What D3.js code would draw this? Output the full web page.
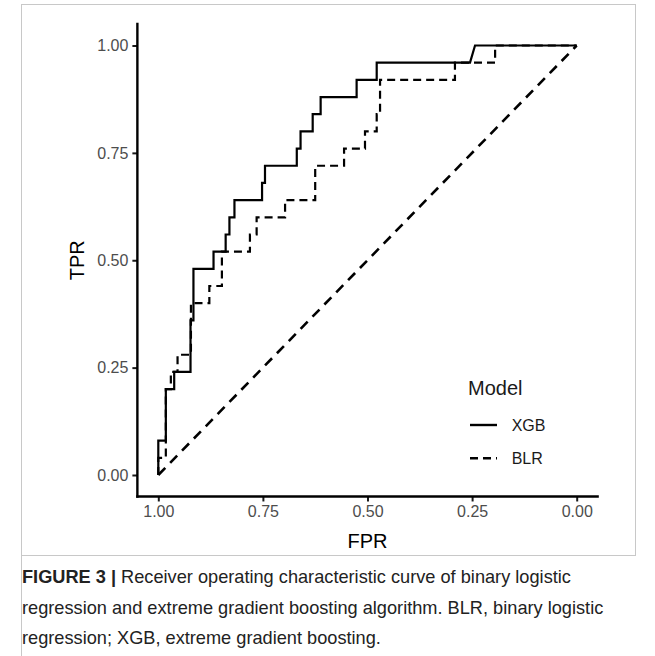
<!DOCTYPE html>
<html>
<head>
<meta charset="utf-8">
<script src="https://cdn.jsdelivr.net/npm/d3@7"></script>
<style>
  body { margin: 0; background: #fff; }
  svg { display: block; font-family: "Liberation Sans", Arial, sans-serif; }
</style>
</head>
<body>
<script>
// ROC points (x axis is reversed, 1.00 on the left)
const xgbFpr = [1.00, 1.00, 0.982, 0.982, 0.962, 0.962, 0.923, 0.923, 0.916, 0.916,
    0.868, 0.868, 0.839, 0.839, 0.830, 0.830, 0.818, 0.818, 0.752, 0.752,
    0.745, 0.745, 0.669, 0.669, 0.660, 0.660, 0.631, 0.631, 0.612, 0.612,
    0.526, 0.526, 0.478, 0.478, 0.255, 0.243, 0.00]
const xgbTpr = [0, 0.08, 0.08, 0.20, 0.20, 0.24, 0.24, 0.36, 0.36, 0.48,
    0.48, 0.52, 0.52, 0.56, 0.56, 0.60, 0.60, 0.64, 0.64, 0.68,
    0.68, 0.72, 0.72, 0.76, 0.76, 0.80, 0.80, 0.84, 0.84, 0.88,
    0.88, 0.92, 0.92, 0.96, 0.96, 1.00, 1.00]

const blrFpr = [1.00, 1.00, 0.982, 0.982, 0.970, 0.970, 0.954, 0.954, 0.922, 0.922,
    0.878, 0.878, 0.848, 0.848, 0.781, 0.781, 0.765, 0.765, 0.697, 0.697,
    0.625, 0.625, 0.556, 0.556, 0.506, 0.506, 0.478, 0.478, 0.470, 0.470,
    0.291, 0.291, 0.195, 0.195, 0.00]
const blrTpr = [0, 0.04, 0.04, 0.20, 0.20, 0.24, 0.24, 0.28, 0.28, 0.40,
    0.40, 0.44, 0.44, 0.52, 0.52, 0.56, 0.56, 0.60, 0.60, 0.64,
    0.64, 0.72, 0.72, 0.76, 0.76, 0.80, 0.80, 0.84, 0.84, 0.92,
    0.92, 0.96, 0.96, 1.00, 1.00]

// reference diagonal
const chanceFpr = [1, 0]
const chanceTpr = [0, 1]

const xTicks = [1.00, 0.75, 0.50, 0.25, 0.00]
const yTicks = [0.00, 0.25, 0.50, 0.75, 1.00]

const models = ['XGB', 'BLR']

const captionLines = [
    ['FIGURE 3 | ', 'Receiver operating characteristic curve of binary logistic'],
    ['', 'regression and extreme gradient boosting algorithm. BLR, binary logistic'],
    ['', 'regression; XGB, extreme gradient boosting.']
]

const m = {
    width: 655,
    height: 656
}

const svg = d3.select('body').append('svg')
    .attr('width', m.width)
    .attr('height', m.height)

// figure frame
svg.append('rect')
    .attr('x', 21.5).attr('y', 4.5)
    .attr('width', 614).attr('height', 551)
    .attr('fill', 'none')
    .attr('stroke', '#c8c8c8')
    .attr('stroke-width', 1)
svg.append('line')
    .attr('x1', 21.5).attr('x2', 21.5)
    .attr('y1', 555).attr('y2', 656)
    .attr('stroke', '#c8c8c8')

const x = d3.scaleLinear().domain([1, 0]).range([158.3, 576.7])
const y = d3.scaleLinear().domain([0, 1]).range([475, 45.5])

const g = svg.append('g')

// axes
const xAxis = g.append('g')
    .attr('transform', 'translate(0,' + y(-0.05) + ')')
    .call(d3.axisBottom(x).tickValues(xTicks).tickFormat(d3.format('.2f')).tickSize(5).tickPadding(4))
const yAxis = g.append('g')
    .attr('transform', 'translate(' + x(1.05) + ',0)')
    .call(d3.axisLeft(y).tickValues(yTicks).tickFormat(d3.format('.2f')).tickSize(5).tickPadding(4))

g.selectAll('.domain').remove()
g.selectAll('.tick line').attr('stroke', '#1a1a1a').attr('stroke-width', 2)
g.selectAll('.tick text')
    .attr('fill', '#4d4d4d')
    .style('font-size', '16px')
    .style('font-family', '"Liberation Sans", Arial, sans-serif')

g.append('line')
    .attr('x1', x(1.05)).attr('x2', x(-0.05))
    .attr('y1', y(-0.05)).attr('y2', y(-0.05))
    .attr('stroke', 'black').attr('stroke-width', 2.4).attr('stroke-linecap', 'square')
g.append('line')
    .attr('x1', x(1.05)).attr('x2', x(1.05))
    .attr('y1', y(-0.05)).attr('y2', y(1.05))
    .attr('stroke', 'black').attr('stroke-width', 2.4).attr('stroke-linecap', 'square')

// axis titles
g.append('text')
    .attr('x', (x(1) + x(0)) / 2)
    .attr('y', 548)
    .attr('text-anchor', 'middle')
    .style('font-size', '20px')
    .text('FPR')
g.append('text')
    .attr('transform', 'translate(84,' + ((y(0) + y(1)) / 2) + ') rotate(-90)')
    .attr('text-anchor', 'middle')
    .style('font-size', '20px')
    .text('TPR')

const line = d3.line()
    .x(function (d) { return x(d[0]) })
    .y(function (d) { return y(d[1]) })

g.append('path')
    .datum(d3.zip(chanceFpr, chanceTpr))
    .attr('d', line)
    .attr('fill', 'none')
    .attr('stroke', 'black')
    .attr('stroke-width', 2.6)
    .attr('stroke-dasharray', '10,7')

g.append('path')
    .datum(d3.zip(blrFpr, blrTpr))
    .attr('d', line)
    .attr('fill', 'none')
    .attr('stroke', 'black')
    .attr('stroke-width', 2.2)
    .attr('stroke-dasharray', '8,5')

g.append('path')
    .datum(d3.zip(xgbFpr, xgbTpr))
    .attr('d', line)
    .attr('fill', 'none')
    .attr('stroke', 'black')
    .attr('stroke-width', 2.2)

// legend
const legend = g.append('g').attr('transform', 'translate(468,0)')
legend.append('text')
    .attr('x', 0).attr('y', 395)
    .style('font-size', '20px')
    .attr('fill', '#1a1a1a')
    .text('Model')

const keys = legend.selectAll('.key')
    .data(models)
    .enter()
    .append('g')
    .attr('transform', function (d, i) { return 'translate(0,' + (425 + i * 33.3) + ')' })
keys.append('line')
    .attr('x1', 2).attr('x2', 29)
    .attr('stroke', 'black')
    .attr('stroke-width', 2.4)
    .attr('stroke-dasharray', function (d) { return d == 'BLR' ? '8,5' : null })
keys.append('text')
    .attr('x', 43.7)
    .attr('dy', '0.35em')
    .style('font-size', '16px')
    .attr('fill', '#1a1a1a')
    .text(function (d) { return d })

// caption
const cap = svg.selectAll('.caption')
    .data(captionLines)
    .enter()
    .append('text')
    .attr('x', 22)
    .attr('y', function (d, i) { return 583 + i * 30.5 })
    .style('font-size', '18.2px')
    .attr('fill', '#222')
cap.append('tspan')
    .style('font-weight', 'bold')
    .text(function (d) { return d[0] })
cap.append('tspan')
    .text(function (d) { return d[1] })
</script>
</body>
</html>
